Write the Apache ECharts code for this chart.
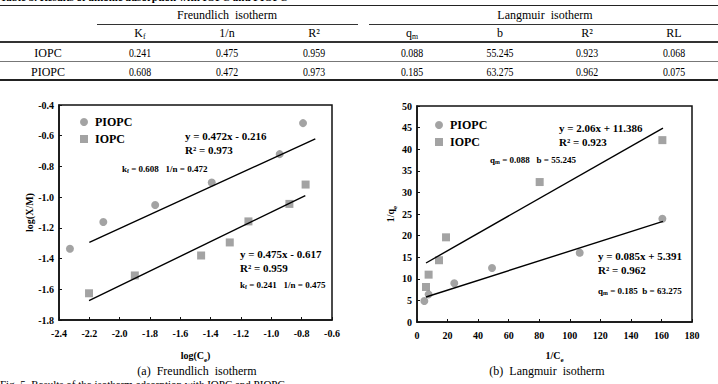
<!DOCTYPE html>
<html>
<head>
<meta charset="utf-8">
<script src="https://cdn.jsdelivr.net/npm/echarts@6/dist/echarts.min.js"></script>
<style>
  html, body { margin: 0; padding: 0; background: #fff; }
  #page { position: relative; width: 718px; height: 384px; overflow: hidden; }
  .chart { position: absolute; left: 0; top: 0; width: 718px; height: 384px; }
  .t { position: absolute; white-space: nowrap; color: #000; line-height: 1;
       font-family: "Liberation Serif", "Times New Roman", serif; }
  .t sub { font-size: 65%; vertical-align: -0.25em; line-height: 0; }
  .rule { position: absolute; }
</style>
</head>
<body>
<div id="page">
  <div id="chartA" class="chart"></div>
  <div id="chartB" class="chart"></div>
  <div id="chartAy" class="chart"></div>
</div>
<script>
// ---- table data ----
const tableTitle = 'Table 3. Results of anionic adsorption with IOPC and PIOPC';
const groupNames = ['Freundlich&nbsp; isotherm', 'Langmuir&nbsp; isotherm'];
const colNames = ['K<sub>f</sub>', '1/n', 'R²', 'q<sub>m</sub>', 'b', 'R²', 'RL'];
const rowNames = ['IOPC', 'PIOPC'];
const iopcRow = ['0.241', '0.475', '0.959', '0.088', '55.245', '0.923', '0.068'];
const piopcRow = ['0.608', '0.472', '0.973', '0.185', '63.275', '0.962', '0.075'];

// ---- (a) Freundlich: log(Ce) vs log(X/M) ----
const frPiopcX = [-2.328, -2.108, -1.766, -1.393, -0.945, -0.791];
const frPiopcY = [-1.336, -1.162, -1.051, -0.905, -0.720, -0.518];
const frIopcX = [-2.202, -1.900, -1.463, -1.274, -1.151, -0.881, -0.774];
const frIopcY = [-1.626, -1.510, -1.380, -1.295, -1.158, -1.044, -0.918];
const frPiopcFitX = [-2.20, -0.71];
const frPiopcFitY = [-1.295, -0.620];
const frIopcFitX = [-2.202, -0.776];
const frIopcFitY = [-1.674, -0.990];

// ---- (b) Langmuir: 1/Ce vs 1/qe ----
const laPiopcX = [4.8, 7.6, 24.4, 49.1, 106.5, 160.6];
const laPiopcY = [4.86, 6.4, 8.95, 12.5, 16.05, 23.9];
const laIopcX = [5.9, 7.6, 14.4, 19.0, 80.3, 160.6];
const laIopcY = [8.1, 10.96, 14.3, 19.6, 32.4, 42.1];
const laIopcFitX = [5.9, 161];
const laIopcFitY = [13.66, 44.9];
const laPiopcFitX = [5.9, 161];
const laPiopcFitY = [5.79, 23.3];

const SERIF = '"Liberation Serif", "Times New Roman", serif';
const GREY = '#8c8c8c';
const page = document.getElementById('page');

function pairs(xs, ys) {
    return xs.map(function (x, i) { return [x, ys[i]]; });
}

// ---- html text layer: table, captions, annotations ----
function put(x, y, html, opt) {
    opt = opt || {};
    let d = document.createElement('div');
    d.className = 't';
    d.innerHTML = html;
    d.style.left = x + 'px';
    d.style.top = y + 'px';
    d.style.fontSize = (opt.size || 11) + 'px';
    d.style.fontWeight = opt.bold ? 'bold' : 'normal';
    let tx = opt.align === 'center' ? '-50%' : '0';
    let ty = opt.va === 'bottom' ? '-100%' : (opt.va === 'top' ? '0' : '-50%');
    d.style.transform = 'translate(' + tx + ',' + ty + ')' + (opt.sx ? ' scaleX(' + opt.sx + ')' : '');
    page.appendChild(d);
}
function rule(x1, x2, y, h, c) {
    let d = document.createElement('div');
    d.className = 'rule';
    d.style.left = x1 + 'px';
    d.style.width = (x2 - x1) + 'px';
    d.style.top = (y - h / 2) + 'px';
    d.style.height = h + 'px';
    d.style.background = c;
    page.appendChild(d);
}

put(0, 3, tableTitle, { bold: true, size: 11, va: 'bottom' });
rule(0, 718, 5.5, 1.3, '#222');
put(227, 15, groupNames[0], { size: 12, align: 'center' });
put(545, 15, groupNames[1], { size: 12, align: 'center' });
rule(97, 358, 24.5, 1, '#333');
rule(369, 718, 24.5, 1, '#333');
let colX = [140, 227, 314, 412, 500, 587, 674];
colNames.forEach(function (c, i) { put(colX[i], 33, c, { size: 12, align: 'center' }); });
rule(0, 718, 42, 2.5, '#333');
put(48, 53, rowNames[0], { size: 12, align: 'center' });
iopcRow.forEach(function (v, i) { put(colX[i], 53, v, { size: 12, align: 'center', sx: 0.82 }); });
rule(0, 718, 61.5, 1, '#777');
put(48, 72, rowNames[1], { size: 12, align: 'center' });
piopcRow.forEach(function (v, i) { put(colX[i], 72, v, { size: 12, align: 'center', sx: 0.82 }); });
rule(0, 718, 80, 2, '#222');

put(197, 371, '(a)&nbsp; Freundlich&nbsp; isotherm', { size: 12, align: 'center' });
put(547, 371, '(b)&nbsp; Langmuir&nbsp; isotherm', { size: 12, align: 'center' });
put(0, 379, 'Fig. 5. Results of the isotherm adsorption with IOPC and PIOPC.', { size: 11, va: 'top' });

put(185, 136, 'y = 0.472x - 0.216', { bold: true, size: 11 });
put(185, 150, 'R² = 0.973', { bold: true, size: 11 });
put(122, 169, 'k<sub>f</sub> = 0.608&nbsp;&nbsp; 1/n = 0.472', { bold: true, size: 9 });
put(240, 254, 'y = 0.475x - 0.617', { bold: true, size: 11 });
put(240, 268, 'R² = 0.959', { bold: true, size: 11 });
put(240, 285, 'k<sub>f</sub> = 0.241&nbsp;&nbsp; 1/n = 0.475', { bold: true, size: 9 });
put(559, 128, 'y = 2.06x + 11.386', { bold: true, size: 11 });
put(559, 142, 'R² = 0.923', { bold: true, size: 11 });
put(490, 160, 'q<sub>m</sub> = 0.088&nbsp;&nbsp; b = 55.245', { bold: true, size: 9 });
put(598, 256, 'y = 0.085x + 5.391', { bold: true, size: 11 });
put(598, 270, 'R² = 0.962', { bold: true, size: 11 });
put(598, 291, 'q<sub>m</sub> = 0.185&nbsp; b = 63.275', { bold: true, size: 9 });

// ---- charts ----
let nameRich = {
    n: { fontFamily: SERIF, fontSize: 10, fontWeight: 'bold', lineHeight: 11, verticalAlign: 'top', color: '#000' },
    s: { fontFamily: SERIF, fontSize: 7, fontWeight: 'bold', lineHeight: 7, padding: [6, 0, 0, 0], verticalAlign: 'top', color: '#000' }
};
let labelStyle = { fontFamily: SERIF, fontWeight: 'bold', fontSize: 10, color: '#000' };

function axis(min, max, step, dec, name, gap, vertical) {
    let ax = {
        type: 'value', min: min, max: max, interval: step,
        name: name, nameLocation: 'middle', nameGap: gap,
        nameTextStyle: { fontFamily: SERIF, fontWeight: 'bold', fontSize: 10, color: '#000', rich: nameRich },
        axisLine: { lineStyle: { color: '#111', width: 1.5 } },
        axisTick: { inside: true, length: 3, lineStyle: { color: '#111' } },
        axisLabel: Object.assign({ margin: vertical ? 5 : 8,
            formatter: function (v) { return v.toFixed(dec); } }, labelStyle),
        splitLine: { show: false }
    };
    if (vertical) ax.nameRotate = 90;
    return ax;
}
function scatter(name, symbol, xs, ys) {
    return {
        name: name, type: 'scatter', symbol: symbol, symbolSize: 8,
        itemStyle: { color: GREY }, data: pairs(xs, ys), z: 2
    };
}
function fit(xs, ys) {
    return {
        type: 'line', showSymbol: false, silent: true,
        lineStyle: { color: '#000', width: 1.4 }, data: pairs(xs, ys), z: 3
    };
}
function legend(left, top) {
    return {
        left: left, top: top, orient: 'vertical', itemWidth: 8, itemHeight: 8, itemGap: 5,
        textStyle: { fontFamily: SERIF, fontWeight: 'bold', fontSize: 12, color: '#000', padding: [0, 0, 0, 2] },
        data: [{ name: 'PIOPC', icon: 'circle' }, { name: 'IOPC', icon: 'rect' }]
    };
}

const gridA = { left: 59, top: 105, width: 273, height: 215 };

// left chart: marks, frame, ticks, x labels (its y tick labels come from the overlay below)
let frYValue = axis(-1.8, -0.4, 0.2, 1, '{n|log(X/M)}', 24, true);
frYValue.axisLabel.show = false;

let chartA = echarts.init(document.getElementById('chartA'), null, { renderer: 'svg' });
chartA.setOption({
    animation: false,
    grid: Object.assign({ show: true, borderColor: '#111', borderWidth: 1.5 }, gridA),
    legend: legend(75, 111),
    xAxis: axis(-2.4, -0.6, 0.2, 1, '{n|log(C}{s|e}{n|)}', 30, false),
    yAxis: frYValue,
    series: [
        scatter('PIOPC', 'circle', frPiopcX, frPiopcY),
        scatter('IOPC', 'rect', frIopcX, frIopcY),
        fit(frPiopcFitX, frPiopcFitY),
        fit(frIopcFitX, frIopcFitY)
    ]
});

// same left y scale drawn alone, only for its tick labels
let chartAy = echarts.init(document.getElementById('chartAy'), null, { renderer: 'svg' });
chartAy.setOption({
    animation: false,
    grid: gridA,
    xAxis: { type: 'value', min: -2.4, max: -0.6, show: false },
    yAxis: {
        type: 'value', min: -1.8, max: -0.4, interval: 0.2,
        axisLine: { show: false }, axisTick: { show: false }, splitLine: { show: false },
        axisLabel: Object.assign({ margin: 5, formatter: function (v) { return v.toFixed(1); } }, labelStyle)
    },
    series: []
});

let chartB = echarts.init(document.getElementById('chartB'), null, { renderer: 'svg' });
chartB.setOption({
    animation: false,
    grid: { left: 417, top: 106, width: 275, height: 216, show: true, borderColor: '#111', borderWidth: 1.5 },
    legend: legend(430, 114),
    xAxis: axis(0, 180, 20, 0, '{n|1/C}{s|e}', 28, false),
    yAxis: axis(0, 50, 5, 0, '{n|1/q}{s|e}', 20, true),
    series: [
        scatter('PIOPC', 'circle', laPiopcX, laPiopcY),
        scatter('IOPC', 'rect', laIopcX, laIopcY),
        fit(laIopcFitX, laIopcFitY),
        fit(laPiopcFitX, laPiopcFitY)
    ]
});
</script>
</body>
</html>
